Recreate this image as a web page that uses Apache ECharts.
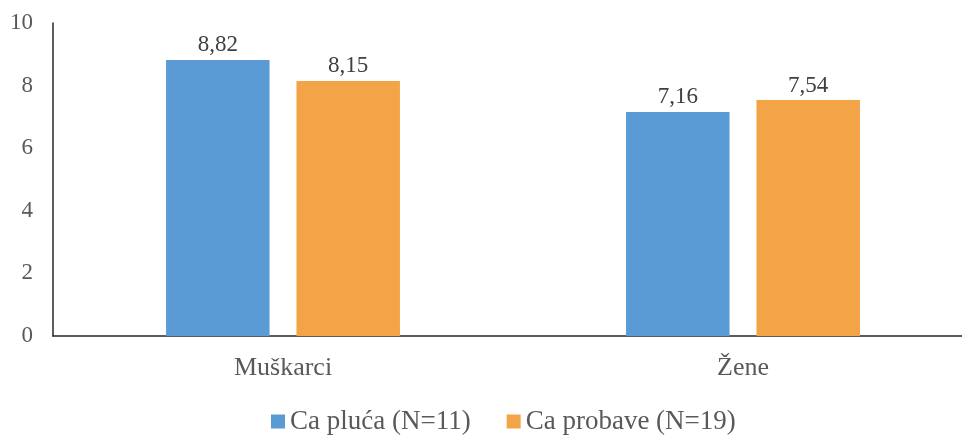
<!DOCTYPE html>
<html>
<head>
<meta charset="utf-8">
<script src="https://cdn.jsdelivr.net/npm/echarts@6/dist/echarts.min.js"></script>
<style>
  html, body { margin: 0; padding: 0; background: #fff; }
</style>
</head>
<body>
<div id="chart" style="width: 962px; height: 435px"></div>
<script>
// podaci
const categories = ["Muškarci", "Žene"];
const caPluca = [8.82, 7.16];
const caProbave = [8.15, 7.54];
const seriesNames = ["Ca pluća (N=11)", "Ca probave (N=19)"];

const font = "'Liberation Serif', 'Times New Roman', serif";

let myChart = echarts.init(document.getElementById("chart"));

const labelStyle = {
  show: true,
  position: "top",
  distance: 3,
  color: "#404040",
  fontSize: 23,
  fontFamily: font,
  formatter: (p) => p.value.toFixed(2).replace(".", ","),
};

myChart.setOption({
  animation: false,
  color: ["#5b9bd5", "#f2a447"],
  textStyle: { fontFamily: font },
  legend: {
    top: 408,
    left: 271,
    padding: 0,
    itemWidth: 14,
    itemHeight: 14,
    itemGap: 36,
    icon: "rect",
    textStyle: { color: "#595959", fontSize: 27, fontFamily: font },
    data: seriesNames,
  },
  grid: {
    left: 53,
    top: 23,
    width: 920,
    height: 313,
    outerBoundsMode: "none",
    containLabel: false,
  },
  xAxis: {
    type: "category",
    data: categories,
    axisTick: { show: false },
    axisLine: { lineStyle: { color: "#262626", width: 1.5 } },
    axisLabel: {
      color: "#595959",
      fontSize: 26,
      fontFamily: font,
      margin: 19,
    },
  },
  yAxis: {
    type: "value",
    min: 0,
    max: 10,
    interval: 2,
    axisLine: { show: true, lineStyle: { color: "#262626", width: 1.5 } },
    axisTick: { show: false },
    splitLine: { show: false },
    axisLabel: {
      color: "#595959",
      fontSize: 23,
      fontFamily: font,
      margin: 20,
    },
  },
  series: [
    {
      name: seriesNames[0],
      type: "bar",
      data: caPluca,
      barWidth: 103.5,
      barGap: "26%",
      label: labelStyle,
    },
    {
      name: seriesNames[1],
      type: "bar",
      data: caProbave,
      barWidth: 103.5,
      barGap: "26%",
      label: labelStyle,
    },
  ],
});

window.addEventListener("resize", () => {
  myChart.resize();
});
</script>
</body>
</html>
